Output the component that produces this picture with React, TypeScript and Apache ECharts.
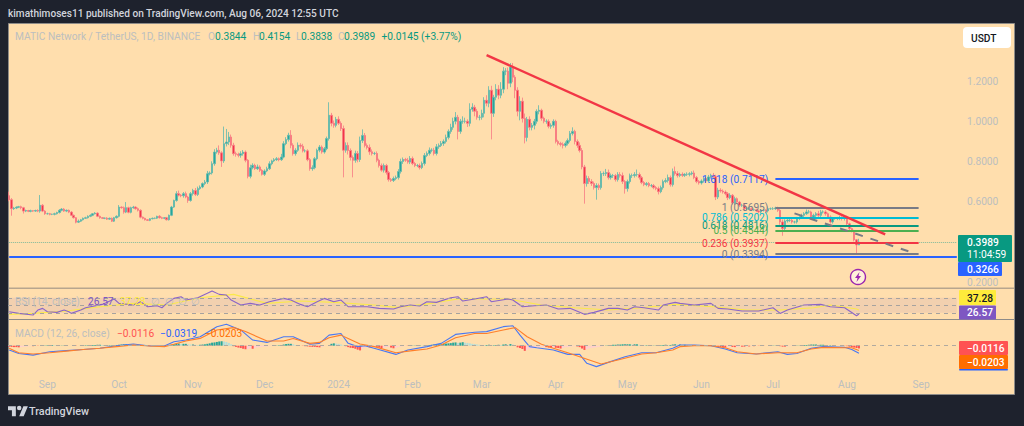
import React, { useEffect, useRef } from "react";
import * as echarts from "echarts";

const FONT = "Roboto, 'Noto Sans', sans-serif";
const START = Date.UTC(2023, 7, 16);
const TOTAL_SLOTS = 398;
const monthLabels: Record<string, string> = {
  "2023-09": "Sep", "2023-10": "Oct", "2023-11": "Nov", "2023-12": "Dec", "2024-01": "2024", "2024-02": "Feb",
  "2024-03": "Mar", "2024-04": "Apr", "2024-05": "May", "2024-06": "Jun", "2024-07": "Jul", "2024-08": "Aug", "2024-09": "Sep",
};
const priceTickHidden = [0.4, 1.4];

const firstOpen = 0.63;
const closesAug23 = [.61,.565,.568,.572,.575,.57,.553,.556,.552,.555,.553,.556,.553,.582,.553,.54];
const closesSep23 = [.54,.537,.537,.54,.546,.557,.563,.553,.557,.548,.532,.52,.498,.503,.51,.517,.52,.527,.532,.54,.543,.527,.52,.517,.518,.513,.517,.503,.52,.527];
const closesOct23 = [.573,.57,.548,.57,.547,.57,.573,.565,.557,.523,.517,.51,.507,.515,.517,.518,.527,.52,.517,.52,.51,.532,.573,.606,.64,.632,.63,.64,.623,.606,.64];
const closesNov23 = [.656,.636,.665,.673,.69,.698,.739,.743,.789,.847,.856,.843,.803,.889,.897,.922,.881,.839,.836,.831,.839,.847,.806,.726,.769,.781,.764,.773,.756,.736];
const closesDec23 = [.753,.764,.789,.803,.809,.814,.809,.822,.889,.909,.931,.881,.839,.856,.881,.876,.853,.853,.809,.764,.769,.814,.856,.872,.847,.864,.914,1.03,.99,.98,1.01];
const closesJan24 = [.99,.964,.856,.88,.855,.82,.806,.84,.81,.904,.93,.88,.87,.848,.84,.84,.806,.78,.757,.78,.745,.71,.706,.715,.72,.75,.8,.81,.806,.797,.815];
const closesFeb24 = [.79,.78,.78,.77,.79,.83,.84,.856,.856,.84,.873,.88,.89,.9,.92,.95,.97,1.0,1.02,.95,1.0,1.0,1.0,.99,1.06,1.07,1.05,1.02,1.02];
const closesMar24 = [1.04,1.105,1.09,1.155,1.04,1.12,1.16,1.13,1.16,1.25,1.25,1.19,1.27,1.22,1.155,1.05,1.1,1.014,.92,1.01,.97,.98,1.0,1.05,1.055,1.015,1.0,1.0,.975,.98,1.0];
const closesApr24 = [.9,.89,.885,.88,.89,.905,.94,.95,.9,.88,.855,.773,.69,.715,.7,.69,.67,.68,.67,.74,.74,.745,.72,.73,.73,.71,.735,.73,.7,.665];
const closesMay24 = [.7,.73,.73,.735,.735,.72,.695,.685,.69,.68,.68,.67,.665,.65,.67,.7,.705,.72,.685,.75,.74,.73,.736,.731,.736,.736,.739,.743,.72,.7,.693];
const closesJun24 = [.703,.715,.703,.723,.731,.726,.623,.657,.653,.648,.64,.62,.632,.593,.615,.598,.582,.582,.565,.565,.565,.56,.56,.554,.549,.557,.557,.554,.565,.565];
const closesJul24 = [.565,.569,.557,.499,.466,.504,.507,.507,.499,.499,.516,.52,.532,.54,.549,.549,.524,.532,.54,.532,.549,.549,.54,.524,.499,.516,.516,.516,.52,.516,.524];
const closesAug24 = [.49,.466,.455,.41,.3844,.3989];

const upperWicks = [
  20,8,6,5,4,5,4,4,3,5,3,4,6,51,6,5,
  5,4,3,5,4,6,5,5,4,4,5,4,3,8,4,4,5,5,5,3,5,4,4,3,3,5,4,4,4,5,
  10,4,6,28,5,5,6,4,6,5,3,3,3,3,4,3,3,6,5,3,4,4,6,4,12,15,6,8,10,6,8,
  8,12,10,8,6,10,14,8,12,14,12,24,8,85,65,25,12,12,10,8,12,10,8,6,15,10,8,12,8,6,
  8,10,12,6,8,8,6,16,12,12,12,25,10,10,14,10,12,8,8,8,12,8,8,10,8,8,10,65,12,14,12,
  15,10,15,15,15,10,10,14,12,20,30,12,10,15,12,8,10,8,10,10,8,8,8,10,10,12,14,10,8,12,12,
  10,8,8,10,10,12,10,14,10,12,14,10,12,10,14,10,18,18,26,12,12,25,18,10,30,20,12,12,12,
  18,15,25,20,22,12,25,20,35,20,15,18,20,20,10,15,25,18,25,12,15,12,12,10,25,8,8,10,10,10,10,
  8,8,8,10,10,10,12,20,8,10,15,12,10,15,12,12,10,12,10,12,10,18,15,10,8,8,12,12,15,8,
  10,10,10,12,25,10,8,8,8,8,8,8,8,10,10,10,12,15,10,15,25,12,8,10,6,10,8,8,12,8,8,
  8,10,8,10,8,12,8,12,10,8,8,8,10,6,10,6,6,8,6,6,8,6,6,5,6,6,5,6,10,6,
  8,6,6,6,12,8,8,8,8,6,8,8,8,8,12,10,6,8,8,14,10,8,8,6,8,8,6,8,10,8,6,
  6,6,5,5,4,16.5,
];
const lowerWicks = [
  8,35,6,5,4,8,12,5,4,5,4,4,5,8,5,6,
  4,5,4,5,4,5,5,4,5,5,4,4,6,4,4,4,3,4,4,4,4,4,5,3,4,4,3,4,4,4,
  5,5,8,5,5,5,5,5,6,6,5,4,3,4,3,4,4,4,4,4,4,4,4,4,6,6,8,10,6,12,6,
  10,8,8,6,6,8,10,8,8,10,8,10,30,10,14,15,12,10,12,10,12,10,10,10,10,8,6,6,8,6,
  8,6,6,8,6,6,8,6,6,8,10,15,10,10,8,12,8,8,8,10,10,8,8,10,8,8,8,10,15,12,10,
  8,12,135,12,20,15,85,12,14,12,12,10,10,15,10,8,10,10,8,12,10,10,8,8,8,10,10,12,8,8,10,
  8,8,8,10,8,10,8,10,10,10,10,10,8,12,10,10,12,12,15,40,12,12,10,18,15,12,25,12,15,
  12,20,15,20,130,18,15,20,15,20,20,30,20,25,40,25,45,20,30,20,15,15,20,12,15,12,10,12,10,12,12,
  10,10,10,15,10,10,10,10,15,12,10,12,100,15,12,12,10,60,12,10,12,12,10,10,12,10,10,10,12,25,
  15,10,12,10,10,10,8,8,8,8,8,8,8,14,8,10,8,10,10,10,10,10,8,8,8,8,10,8,8,8,8,
  8,8,10,8,8,8,15,10,8,8,8,12,8,8,8,8,8,8,8,8,6,6,6,6,6,8,6,6,8,6,
  6,6,8,14,36,8,8,8,8,8,8,8,6,8,6,8,8,8,8,8,8,8,10,8,8,8,6,8,8,10,10,
  8,8,8,8,45,.6,
];

const fibLevels = [
  { ratio: "1.618", price: 0.7117, color: "#2962ff" },
  { ratio: "1", price: 0.5695, color: "#787b86" },
  { ratio: "0.786", price: 0.5202, color: "#00bcd4" },
  { ratio: "0.618", price: 0.4816, color: "#089981" },
  { ratio: "0.5", price: 0.4544, color: "#4caf50" },
  { ratio: "0.236", price: 0.3937, color: "#f23645" },
  { ratio: "0", price: 0.3394, color: "#787b86" },
];
const fibStartBar = 321;
const fibEndBar = 381;
const supportPrice = 0.3266;
const lastPrice = 0.3989;
const trendBars = [200, 367];
const trendPrices = [1.3297, 0.4369];
const forecastBars = [329, 377];
const forecastPrices = [0.5416, 0.3521];

const rsiBars = [0,4,10,12,14,16,20,23,25,26,30,32,39,44,46,52,55,58,62,64,66,69,72,74,79,83,85,88,91,93,97,101,105,109,115,118,122,125,129,132,136,139,142,146,150,155,161,164,168,172,175,179,185,188,190,195,200,202,209,211,215,220,225,230,235,241,245,251,255,259,262,266,272,274,279,281,287,294,297,301,307,314,320,323,326,333,340,344,350,355,356];
const rsiValues = [32.8,28.3,23.9,37.2,41.7,32.8,31,37.2,32.8,28.3,37.2,43.4,52.3,66.6,55,50.6,59.4,46.1,48.8,43.4,55,68.3,72.8,63.9,70.1,81.7,87.9,79,77.2,63.9,50.6,55,50.6,59.4,68.3,63.9,52.3,46.1,59.4,68.3,59.4,63.9,46.1,46.1,46.1,41.7,39.9,46.1,50.6,47.9,59.4,57.7,70.1,72.8,61.2,66.6,72.8,59.4,66.6,63.9,46.1,48.8,50.6,39.9,41.7,25.7,31,41.7,41.7,37.2,46.1,43.4,37.2,50.6,57.7,55,50.6,55,41.7,39.9,34.6,34.6,43.4,28.3,37.2,50.6,52.3,46.1,43.4,22,26.57];
const rsiMaBars = [0,10,24,38,52,66,80,94,108,122,136,153,162,174,188,209,223,237,251,265,279,295,309,323,337,344,355,356];
const rsiMaValues = [25.7,28.3,34.6,46.1,55,50.6,70.1,79,55,61.2,57.7,50.6,44.3,52.3,66.6,66.6,50.6,43.4,37.2,43.4,52.3,46.1,37.2,37.2,43.4,50.6,39.9,37.28];

const macdBars = [0,4,10,17,24,31,38,45,52,59,65,69,74,80,87,91,97,102,108,115,119,126,130,134,139,142,146,149,154,162,167,175,181,187,195,200,207,211,214,218,221,228,234,239,242,246,251,258,265,271,278,281,287,294,300,305,313,322,326,330,336,341,350,353,356];
const macdValues = [-.018,-.033,-.04,-.026,-.021,-.016,-.011,0,.007,-.001,-.001,.017,.024,.038,.081,.091,.067,.024,.014,.038,.038,.006,.01,.045,.052,.01,-.004,0,-.014,-.037,-.018,-.004,.01,.048,.057,.06,.081,.085,.045,-.004,-.009,-.018,-.037,-.037,-.075,-.089,-.071,-.047,-.03,-.03,-.011,.003,.003,0,-.014,-.03,-.035,-.026,-.037,-.033,-.011,-.004,-.007,-.016,-.0319];
const signalBars = [0,4,10,17,24,31,38,45,52,59,65,69,74,80,87,94,99,108,115,119,126,130,134,139,142,147,153,162,169,175,181,187,195,200,207,212,217,223,228,234,239,248,255,265,271,278,281,287,294,300,305,313,322,330,336,341,350,353,356];
const signalValues = [-.011,-.03,-.035,-.03,-.023,-.016,-.011,-.004,.003,-.001,-.004,.006,.02,.031,.067,.077,.06,.02,.02,.031,.01,.014,.034,.045,.031,.007,-.004,-.03,-.021,-.014,.003,.034,.052,.052,.067,.077,.038,.006,-.011,-.03,-.047,-.078,-.061,-.035,-.03,-.018,-.004,0,0,-.009,-.026,-.035,-.03,-.03,-.014,-.007,-.009,-.009,-.0203];
const histThousandths = [
  -4,-5,-6,-6,-7,-6,-5,-4,-3,-2,-2,-1,-1,0,1,1,
  2,3,3,2,2,1,1,1,1,0,0,-1,-1,0,1,1,2,2,3,3,3,4,4,3,3,2,2,2,3,3,
  4,5,6,6,5,5,4,3,2,1,0,-1,-1,-1,0,0,0,0,0,-1,0,2,4,6,8,9,8,8,8,6,5,
  5,4,3,4,5,6,8,10,13,14,16,18,19,18,16,12,6,-2,-5,-8,-10,-13,-15,-14,-12,-13,-10,-8,-6,-5,
  -4,-3,-2,-1,0,1,2,3,5,7,8,8,6,3,1,0,-1,-2,-3,-4,-5,-5,-6,-7,-4,-2,0,3,8,10,9,
  8,5,2,-2,-6,-9,-10,-13,-17,-20,-14,-8,-6,-7,-5,-4,-5,-8,-10,-9,-6,-5,-8,-11,-9,-6,-4,-2,-1,-1,0,
  1,1,2,2,1,2,3,3,4,5,5,6,6,8,9,10,11,13,14,12,13,15,13,12,10,8,7,5,4,
  3,2,3,4,1,2,3,4,3,5,6,4,7,5,1,-7,-10,-14,-22,-19,-15,-13,-11,-9,-7,-6,-5,-6,-8,-9,-8,
  -9,-10,-12,-10,-7,-6,-4,-3,-2,-3,-6,-12,-18,-15,-12,-10,-8,-7,-5,-4,-1,1,2,3,4,4,5,5,6,6,
  6,6,5,6,6,4,3,2,2,1,1,1,1,1,2,3,4,3,3,5,6,5,5,4,4,3,2,2,1,0,0,
  -1,-1,0,0,1,0,-3,-5,-6,-6,-7,-6,-5,-5,-6,-5,-4,-4,-4,-3,-3,-2,-2,-1,-1,-1,-1,0,0,1,
  1,1,0,-2,-4,-4,-3,-2,-1,0,1,1,2,3,3,4,5,5,5,4,4,4,3,2,2,1,1,0,0,-1,-1,
  -2,-4,-6,-8,-10,-11.6,
];

const closes = [...closesAug23, ...closesSep23, ...closesOct23, ...closesNov23, ...closesDec23, ...closesJan24, ...closesFeb24, ...closesMar24, ...closesApr24, ...closesMay24, ...closesJun24, ...closesJul24, ...closesAug24];
const candles = closes.map((c, i) => {
  const o = i === 0 ? firstOpen : closes[i - 1];
  return [o, c, Math.min(o, c) - lowerWicks[i] / 1000, Math.max(o, c) + upperWicks[i] / 1000];
});
const dates = Array.from({ length: TOTAL_SLOTS }, (_, i) => new Date(START + i * 86400000).toISOString().slice(0, 10));
const pairs = (xs: number[], ys: number[]) => xs.map((x, i) => [x, ys[i]]);

const histData = histThousandths.map((v, i) => {
  const prev = i ? histThousandths[i - 1] : v;
  const color = v >= 0 ? (v >= prev ? "#26a69a" : "#b2dfdb") : v <= prev ? "#ff5252" : "#ffcdd2";
  return { value: v / 1000, itemStyle: { color } };
});

const GREY = "#bcbfbf";
const G = "#089981";
const SZ = 10.2;

function text(x: number, y: number, t: string, fill: string, size = SZ, weight: any = 400, extra: any = {}) {
  return { type: "text", x, y, z: 100, silent: true, style: { text: t, fill, font: `${weight} ${size}px ${FONT}`, textVerticalAlign: "middle", ...extra } };
}
function box(x: number, y: number, width: number, height: number, fill: string, r: any = 1) {
  return { type: "rect", x, y, z: 90, silent: true, shape: { width, height, r }, style: { fill } };
}

echarts.graphic.registerShape("tvLogo", echarts.graphic.extendPath("M14 22H7V11H0V4h14v18zM28 22h-8l7.5-18h8L28 22zM20 3a4 4 0 1 1 0 8a4 4 0 0 1 0-8z", {}));
echarts.graphic.registerShape("bolt", echarts.graphic.extendPath("M4.5 0L0 6H2.5L1.5 10L6 4H3.5Z", {}));

const GRID_LEFT = 8;
const GRID_W = 950;

function mkX(gridIndex: number, showLabels: boolean) {
  return {
    type: "category", gridIndex, data: dates,
    axisLine: { show: false }, axisTick: { show: false }, splitLine: { show: false },
    axisLabel: showLabels
      ? {
          show: true, inside: true, margin: 3, color: GREY, fontSize: SZ, fontFamily: FONT,
          interval: (_: number, v: string) => v.endsWith("-01"),
          formatter: (v: string) => monthLabels[v.slice(0, 7)] || "",
        }
      : { show: false },
  };
}
const lineSeries = (xAxisIndex: number, data: any[], color: string, width = 1, extra: any = {}) => ({
  type: "line", xAxisIndex, yAxisIndex: xAxisIndex, data, showSymbol: false, symbol: "none", silent: true,
  lineStyle: { color, width }, itemStyle: { color }, z: 3, animation: false, ...extra,
});

const option: any = {
  animation: false,
  backgroundColor: "#1e222d",
  textStyle: { fontFamily: FONT },
  grid: [
    { left: GRID_LEFT, width: GRID_W, top: 41, height: 241 },
    { left: GRID_LEFT, width: GRID_W, top: 286.5, height: 37.5 },
    { left: GRID_LEFT, width: GRID_W, top: 322.2, height: 70.5 },
  ],
  xAxis: [mkX(0, false), mkX(1, false), mkX(2, true)],
  yAxis: [
    {
      type: "value", gridIndex: 0, position: "right", min: 0.2, max: 1.4, interval: 0.2,
      axisLine: { show: false }, axisTick: { show: false }, splitLine: { show: false },
      axisLabel: {
        color: GREY, fontSize: SZ, fontFamily: FONT, margin: 9,
        formatter: (v: number) => (priceTickHidden.some((h) => Math.abs(h - v) < 1e-6) ? "" : v.toFixed(4)),
      },
    },
    { type: "value", gridIndex: 1, min: 0, max: 100, show: false },
    { type: "value", gridIndex: 2, min: -0.2, max: 0.1, show: false },
  ],
  series: [
    {
      type: "candlestick", xAxisIndex: 0, yAxisIndex: 0, data: candles, barWidth: 2, z: 2, silent: true,
      itemStyle: { color: "#26a69a", color0: "#f23645", borderColor: "#5fb9ae", borderColor0: "#f77b85", borderWidth: 0.8 },
      markLine: {
        silent: true, symbol: "none", animation: false, z: 4,
        data: [
          [
            { xAxis: 0, yAxis: lastPrice, lineStyle: { color: "#7fb99a", type: "dotted", width: 1 }, label: { show: false } },
            { xAxis: TOTAL_SLOTS - 1, yAxis: lastPrice },
          ],
          [
            { xAxis: 0, yAxis: supportPrice, lineStyle: { color: "#2962ff", type: "solid", width: 2 }, label: { show: false } },
            { xAxis: TOTAL_SLOTS - 1, yAxis: supportPrice },
          ],
          ...fibLevels.map((f) => [
            {
              xAxis: fibStartBar, yAxis: f.price,
              lineStyle: { color: f.color, type: "solid", width: 1.8 },
              label: {
                show: true, position: "start", distance: 7, color: f.color, fontSize: SZ, fontFamily: FONT,
                formatter: `${f.ratio} (${f.price.toFixed(4)})`,
              },
            },
            { xAxis: fibEndBar, yAxis: f.price },
          ]),
        ],
      },
    },
    lineSeries(0, pairs(trendBars, trendPrices), "#f23645", 2.5, { z: 5 }),
    lineSeries(0, pairs(forecastBars, forecastPrices), "#787b86", 2, { z: 5, lineStyle: { color: "#787b86", width: 2, type: [8, 8] } }),
    {
      type: "line", xAxisIndex: 1, yAxisIndex: 1, data: [], silent: true, z: 1,
      markArea: { silent: true, itemStyle: { color: "rgba(126,87,194,0.1)" }, data: [[{ xAxis: 0, yAxis: 70 }, { xAxis: TOTAL_SLOTS - 1, yAxis: 30 }]] },
      markLine: {
        silent: true, symbol: "none", label: { show: false },
        lineStyle: { color: "#a6a29f", type: [4, 4], width: 1 },
        data: [{ yAxis: 70 }, { yAxis: 50 }, { yAxis: 30 }],
      },
    },
    lineSeries(1, pairs(rsiMaBars, rsiMaValues), "#fbe94a", 1.1),
    lineSeries(1, pairs(rsiBars, rsiValues), "#8a64c8", 1.1, { z: 4 }),
    {
      type: "bar", xAxisIndex: 2, yAxisIndex: 2, data: histData, barWidth: 2, silent: true, z: 2,
      markLine: {
        silent: true, symbol: "none", label: { show: false },
        lineStyle: { color: "#b0aaa0", type: [4, 4], width: 1 },
        data: [{ yAxis: 0 }],
      },
    },
    lineSeries(2, pairs(macdBars, macdValues), "#4a78f2", 1.1),
    lineSeries(2, pairs(signalBars, signalValues), "#ff7f2a", 1.1, { z: 4 }),
  ],
  graphic: {
    elements: [
      { type: "rect", z: -1, silent: true, x: 8.5, y: 23.5, shape: { width: 1006, height: 371 }, style: { fill: "#ffdead", stroke: "#8d8b88", lineWidth: 1 } },
      { type: "rect", z: -1, silent: true, x: 9, y: 287.5, shape: { width: 1005, height: 1.5 }, style: { fill: "#b7a58e" } },
      { type: "rect", z: -1, silent: true, x: 9, y: 319, shape: { width: 1005, height: 1 }, style: { fill: "#8d8b88" } },

      text(8, 13, "kimathimoses11 published on TradingView.com, Aug 06, 2024 12:55 UTC", "#d1d4dc", 10.1, 500),
      text(15, 36.5, "MATIC Network / TetherUS, 1D, BINANCE", GREY),
      text(208, 36.5, "O", GREY), text(215, 36.5, "0.3844", G),
      text(253, 36.5, "H", GREY), text(259, 36.5, "0.4154", G),
      text(296, 36.5, "L", GREY), text(301, 36.5, "0.3838", G),
      text(338, 36.5, "C", GREY), text(344, 36.5, "0.3989", G),
      text(381.5, 36.5, "+0.0145 (+3.77%)", G),

      box(963, 27, 48, 21, "#ffffff", 4),
      text(971, 38, "USDT", "#131722", SZ, 500),

      box(958, 235, 54, 27, "#089981"),
      text(967, 242.5, "0.3989", "#ffffff", SZ, 500),
      text(967, 254.5, "11:04:59", "#ffffff", SZ, 400),
      box(958, 262, 44, 14, "#2962ff"),
      text(967, 269, "0.3266", "#ffffff", SZ, 500),

      box(959, 290, 37, 15, "#ffeb3b"),
      text(967, 298, "37.28", "#131722", SZ, 500),
      box(959, 305.5, 37, 14, "#7e57c2"),
      text(967, 312.5, "26.57", "#ffffff", SZ, 500),

      box(959, 341, 49, 14, "#ff5252"),
      text(967, 348.5, "\u22120.0116", "#ffffff", SZ, 500),
      box(959, 355, 49, 14, "#ff6d00"),
      text(967, 362.5, "\u22120.0203", "#ffffff", SZ, 500),
      box(959, 369, 49, 1.5, "#2962ff"),

      text(15, 301.5, "RSI (14, close)", GREY),
      text(88, 301.5, "26.57", "#7e57c2"),
      text(120, 301.5, "37.28", "#ffeb3b"),
      text(151, 301.5, "\u2205", GREY),
      text(165, 301.5, "\u2205", GREY),
      text(178, 301.5, "\u2205", GREY),
      text(191, 301.5, "\u2205", GREY),

      text(15, 333, "MACD (12, 26, close)", GREY),
      text(117, 333, "\u22120.0116", "#ff5252"),
      text(160, 333, "\u22120.0319", "#2962ff"),
      text(205, 333, "\u22120.0203", "#ff6d00"),

      { type: "circle", z: 80, silent: true, shape: { cx: 858, cy: 277, r: 7.5 }, style: { fill: "rgba(255,255,255,0.55)", stroke: "#9c27b0", lineWidth: 1.4 } },
      { type: "bolt", z: 81, silent: true, x: 855, y: 272, style: { fill: "#9c27b0" } },

      { type: "tvLogo", z: 80, silent: true, x: 8, y: 404, scaleX: 0.56, scaleY: 0.56, style: { fill: "#d1d4dc" } },
      text(29, 411, "TradingView", "#d1d4dc", 10.8, 500),
    ],
  },
};

export default function App() {
  const ref = useRef<HTMLDivElement>(null);
  useEffect(() => {
    document.body.style.margin = "0";
    document.body.style.background = "#1e222d";
    const chart = echarts.init(ref.current!, undefined, { renderer: "svg" });
    chart.setOption(option);
    return () => chart.dispose();
  }, []);
  return <div ref={ref} style={{ width: 1024, height: 426 }} />;
}
